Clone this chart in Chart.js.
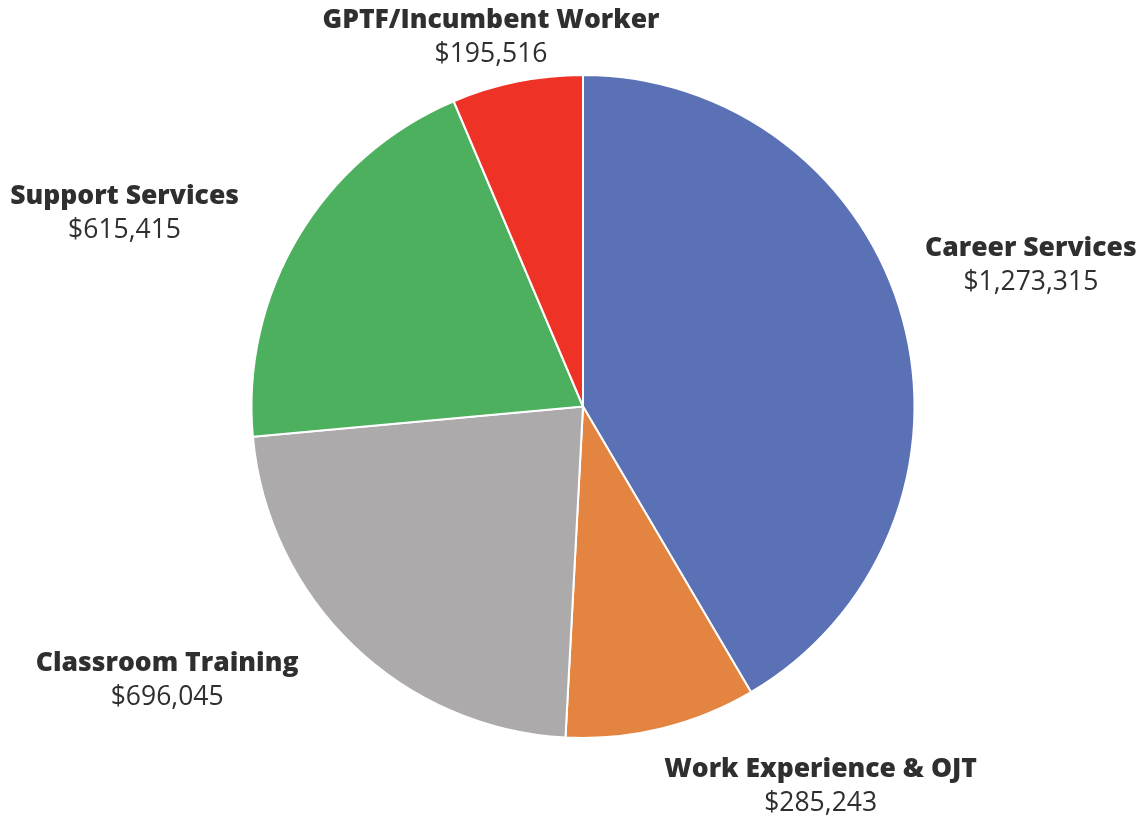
<!DOCTYPE html>
<html>
<head>
<meta charset="utf-8">
<script src="https://cdn.jsdelivr.net/npm/chart.js@4/dist/chart.umd.min.js"></script>
<style>
html,body{margin:0;padding:0;background:#fff;}
#wrap{width:1144px;height:816px;position:relative;}
</style>
</head>
<body>
<div id="wrap"><canvas id="c" width="1144" height="816"></canvas></div>
<script>
const categories = ["Career Services", "Work Experience & OJT", "Classroom Training", "Support Services", "GPTF/Incumbent Worker"];
const values = [1273315, 285243, 696045, 615415, 195516];
const valueLabels = ["$1,273,315", "$285,243", "$696,045", "$615,415", "$195,516"];
const colors = ["#5A71B6", "#E48441", "#ADAAAB", "#4DB05E", "#EE3326"];
// label offsets from the arc's outer mid-point (layout only)
const labelOffsetX = [128, 159, -186, -174, -26];
const labelOffsetY = [-56, 56, 33, -25, -46];

const labelPlugin = {
  id: 'outerLabels',
  afterDatasetsDraw(chart) {
    const ctx = chart.ctx;
    const meta = chart.getDatasetMeta(0);
    meta.data.forEach((arc, i) => {
      const mid = (arc.startAngle + arc.endAngle) / 2;
      const x = arc.x + Math.cos(mid) * arc.outerRadius + labelOffsetX[i];
      const y = arc.y + Math.sin(mid) * arc.outerRadius + labelOffsetY[i];
      ctx.save();
      ctx.textAlign = 'center';
      ctx.textBaseline = 'middle';
      ctx.fillStyle = '#2f2f2f';
      ctx.font = '800 26.5px "Open Sans"';
      ctx.fillText(categories[i], x, y - 15);
      ctx.font = '400 26.5px "Open Sans"';
      ctx.fillText(valueLabels[i], x, y + 19);
      ctx.restore();
    });
  }
};

new Chart(document.getElementById('c'), {
  type: 'pie',
  data: {
    labels: categories,
    datasets: [{
      data: values,
      backgroundColor: colors,
      borderColor: '#ffffff',
      borderWidth: 2
    }]
  },
  options: {
    responsive: false,
    animation: false,
    layout: { padding: { left: 22, right: 0, top: 74, bottom: 77 } },
    plugins: { legend: { display: false }, tooltip: { enabled: false } }
  },
  plugins: [labelPlugin]
});
</script>
</body>
</html>
